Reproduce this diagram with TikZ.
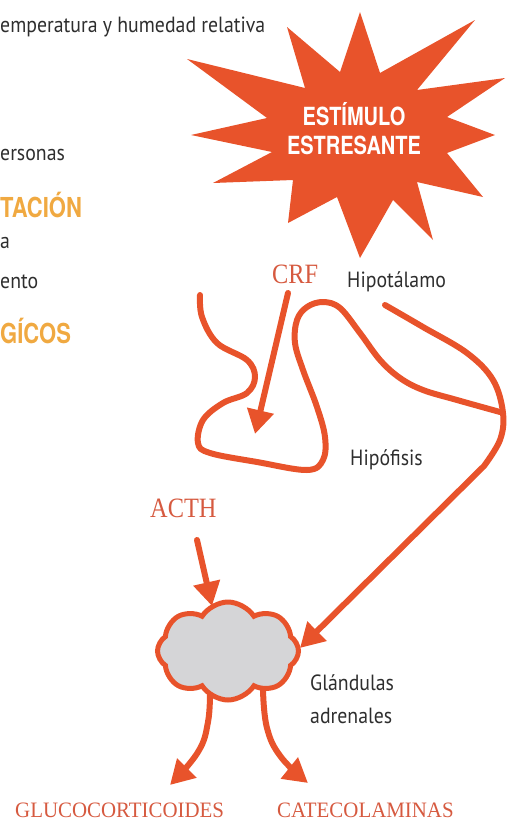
\documentclass[tikz,border=0pt]{standalone}
\usepackage{fontspec}
\setmainfont{Liberation Serif}
\newfontfamily\labelfont[FakeStretch=0.9]{PT Sans}
\newfontfamily\titlefont[FakeStretch=0.8]{TeX Gyre Heros}
\newfontfamily\hormonefont[FakeStretch=0.87]{Liberation Serif}
\newfontfamily\productfont[FakeStretch=0.95]{Liberation Serif}
\usetikzlibrary{arrows.meta,shapes.symbols}
\definecolor{stressred}{HTML}{E8532B}
\definecolor{hormonered}{HTML}{D65A40}
\definecolor{headorange}{HTML}{F0A941}
\definecolor{inkgray}{HTML}{2E2E2E}
\definecolor{glandgray}{HTML}{D5D5D7}
\tikzset{
  brainline/.style={draw=stressred, line width=6pt, line cap=round, line join=round},
  bigarrow/.style={brainline, -{Triangle[width=26pt,length=24pt]}},
  bodytext/.style={anchor=base west, inner sep=0pt, text=inkgray, font=\labelfont\fontsize{22}{26}\selectfont},
  headtext/.style={anchor=base west, inner sep=0pt, text=headorange, font=\titlefont\bfseries\fontsize{27.5}{30}\selectfont},
  stimtext/.style={anchor=base, inner sep=0pt, text=white, font=\titlefont\bfseries\fontsize{25}{29}\selectfont},
  hormone/.style={anchor=base west, inner sep=0pt, text=hormonered, font=\hormonefont\fontsize{28}{30}\selectfont},
  product/.style={anchor=base west, inner sep=0pt, text=hormonered, font=\productfont\fontsize{22}{24}\selectfont},
  gland/.style={cloud, cloud puffs=8, cloud puff arc=115, aspect=1.45, draw=stressred, line width=5pt, fill=glandgray, minimum width=141pt, minimum height=98pt, inner sep=0pt},
}
\begin{document}
\begin{tikzpicture}[x=1pt,y=-1pt]
\useasboundingbox (0,0) rectangle (509,822);
% textos cortados a la izquierda
\node[bodytext] (temp) at (0,32) {emperatura y humedad relativa};
\node[bodytext] (pers) at (0,160) {ersonas};
\node[headtext] (adapt) at (0,217) {TACIÓN};
\node[bodytext] (lineA) at (0,248) {a};
\node[bodytext] (lineB) at (0,288) {ento};
\node[headtext] (bio) at (0,343) {GÍCOS};
% estrella
\fill[stressred] (360,12) -- (380,73) -- (475,20) -- (417,90) -- (505,78) -- (447,117)
  -- (495,135) -- (447,153) -- (483,197) -- (417,182) -- (433,240) -- (393,200)
  -- (360,258) -- (337,197) -- (288,223) -- (293,180) -- (213,183) -- (272,152)
  -- (191,135) -- (267,118) -- (187,59) -- (305,88) -- (287,27) -- (340,72) -- cycle;
\node[stimtext] (stimA) at (354,125) {ESTÍMULO};
\node[stimtext] (stimB) at (354,154) {ESTRESANTE};
% cerebro
\node[hormone] (crf) at (272,283) {CRF};
\node[bodytext] (hipot) at (347,287) {Hipotálamo};
\node[bodytext] (hipof) at (350,465) {Hipófisis};
\draw[brainline] plot[smooth, tension=0.6] coordinates {(200,295) (202,317) (217,343) (247,360)
  (255,377) (247,393) (223,403) (203,420) (198,443) (210,453) (257,462) (307,470) (323,460)
  (325,437) (317,407) (303,370) (295,343) (297,320) (307,307) (323,302) (340,308) (360,333)
  (380,360) (400,378) (423,390) (457,400) (500,412)};
\coordinate (crfstart) at (288,293);
\coordinate (crfend) at (255,434);
\draw[bigarrow] (crfstart) -- (crfend);
% glandulas
\node[hormone] (acth) at (150,517) {ACTH};
\coordinate (acthstart) at (197,540);
\coordinate (acthend) at (212,606);
\coordinate (glustart) at (210,690);
\coordinate (gluend) at (170,785);
\coordinate (catstart) at (263,690);
\coordinate (catend) at (308,783);
\draw[bigarrow] plot[smooth, tension=0.7] coordinates {(glustart) (208,722) (198,752) (gluend)};
\draw[bigarrow] plot[smooth, tension=0.7] coordinates {(catstart) (267,728) (281,757) (catend)};
\node[gland] (adrenal) at (228,651) {};
\coordinate (nerveend) at (300,648);
\draw[bigarrow] plot[smooth, tension=0.6] coordinates {(385,305) (423,327) (467,353) (493,380)
  (503,413) (500,440) (484,466)} -- (nerveend);
\draw[bigarrow] (acthstart) -- (acthend);
\node[bodytext] (glandA) at (310,690) {Glándulas};
\node[bodytext] (glandB) at (310,723) {adrenales};
\node[product] (gluco) at (15,817) {GLUCOCORTICOIDES};
\node[product] (cateco) at (277,817) {CATECOLAMINAS};
\end{tikzpicture}
\end{document}
